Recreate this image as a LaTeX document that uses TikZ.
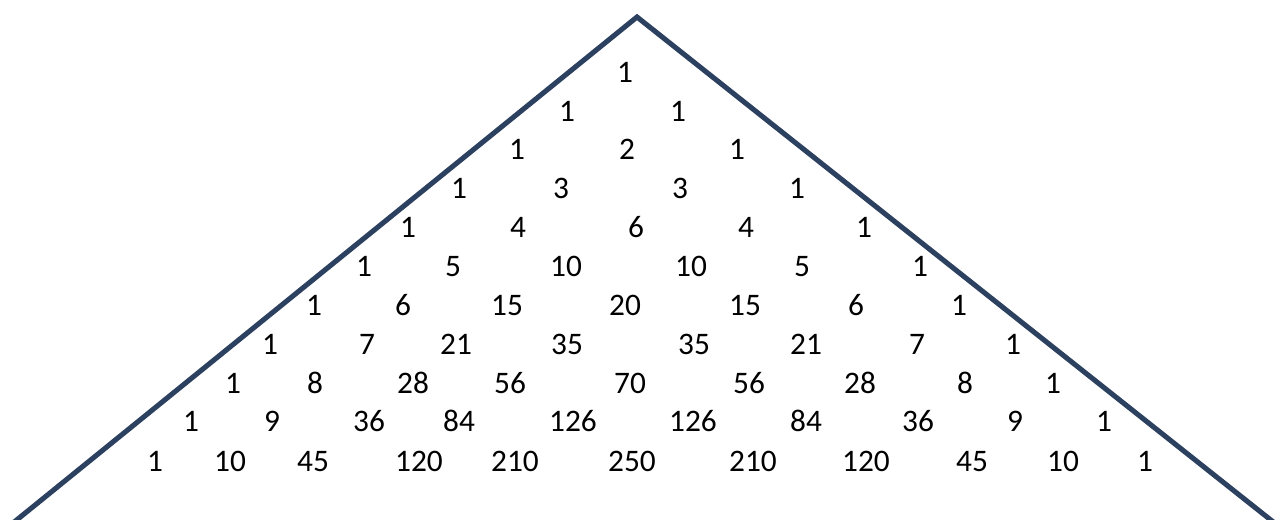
\documentclass[tikz,border=0pt]{standalone}
\usepackage{fontspec}
\setmainfont{Carlito}
\definecolor{roofblue}{RGB}{44,64,96}
\tikzset{
  num/.style={anchor=base,yshift=-6.9pt,inner sep=0.75pt,font=\fontsize{23.5}{28}\selectfont},
  roof/.style={draw=roofblue,line width=3.8pt,line join=miter}
}
\begin{document}
\begin{tikzpicture}[x=0.75pt,y=0.75pt,yscale=-1,xscale=1]
\useasboundingbox (0,0) rectangle (1278,519);
\clip (0,0) rectangle (1278,519);
% roof lines
\coordinate (apex) at (637,17);
\coordinate (leftfoot) at (-8,540);
\coordinate (rightfoot) at (1296,540);
\draw [roof] (leftfoot) -- (apex) -- (rightfoot);
% row 0
\draw (625,73) node [num] (r0c0) {1};
% row 1
\draw (567,112) node [num] (r1c0) {1};
\draw (678,112) node [num] (r1c1) {1};
% row 2
\draw (517,150) node [num] (r2c0) {1};
\draw (627,150) node [num] (r2c1) {2};
\draw (737,150) node [num] (r2c2) {1};
% row 3
\draw (459,189) node [num] (r3c0) {1};
\draw (561,189) node [num] (r3c1) {3};
\draw (680,189) node [num] (r3c2) {3};
\draw (797,189) node [num] (r3c3) {1};
% row 4
\draw (408,228) node [num] (r4c0) {1};
\draw (518,228) node [num] (r4c1) {4};
\draw (636,228) node [num] (r4c2) {6};
\draw (746,228) node [num] (r4c3) {4};
\draw (864,228) node [num] (r4c4) {1};
% row 5
\draw (364,267) node [num] (r5c0) {1};
\draw (453,267) node [num] (r5c1) {5};
\draw (566,267) node [num] (r5c2) {10};
\draw (691,267) node [num] (r5c3) {10};
\draw (802,267) node [num] (r5c4) {5};
\draw (920,267) node [num] (r5c5) {1};
% row 6
\draw (314,306) node [num] (r6c0) {1};
\draw (403,306) node [num] (r6c1) {6};
\draw (507,306) node [num] (r6c2) {15};
\draw (625,306) node [num] (r6c3) {20};
\draw (745,306) node [num] (r6c4) {15};
\draw (856,306) node [num] (r6c5) {6};
\draw (959,306) node [num] (r6c6) {1};
% row 7
\draw (270,345) node [num] (r7c0) {1};
\draw (367,345) node [num] (r7c1) {7};
\draw (456,345) node [num] (r7c2) {21};
\draw (567,345) node [num] (r7c3) {35};
\draw (694,345) node [num] (r7c4) {35};
\draw (806,345) node [num] (r7c5) {21};
\draw (917,345) node [num] (r7c6) {7};
\draw (1013,345) node [num] (r7c7) {1};
% row 8
\draw (233,384) node [num] (r8c0) {1};
\draw (315,384) node [num] (r8c1) {8};
\draw (413,384) node [num] (r8c2) {28};
\draw (510,384) node [num] (r8c3) {56};
\draw (630,384) node [num] (r8c4) {70};
\draw (749,384) node [num] (r8c5) {56};
\draw (860,384) node [num] (r8c6) {28};
\draw (965,384) node [num] (r8c7) {8};
\draw (1053,384) node [num] (r8c8) {1};
% row 9
\draw (191,422) node [num] (r9c0) {1};
\draw (272,422) node [num] (r9c1) {9};
\draw (369,422) node [num] (r9c2) {36};
\draw (459,422) node [num] (r9c3) {84};
\draw (573,422) node [num] (r9c4) {126};
\draw (693,422) node [num] (r9c5) {126};
\draw (806,422) node [num] (r9c6) {84};
\draw (918,422) node [num] (r9c7) {36};
\draw (1015,422) node [num] (r9c8) {9};
\draw (1104,422) node [num] (r9c9) {1};
% row 10
\draw (155,462) node [num] (r10c0) {1};
\draw (230,462) node [num] (r10c1) {10};
\draw (313,462) node [num] (r10c2) {45};
\draw (419,462) node [num] (r10c3) {120};
\draw (515,462) node [num] (r10c4) {210};
\draw (632,462) node [num] (r10c5) {250};
\draw (753,462) node [num] (r10c6) {210};
\draw (866,462) node [num] (r10c7) {120};
\draw (972,462) node [num] (r10c8) {45};
\draw (1063,462) node [num] (r10c9) {10};
\draw (1145,462) node [num] (r10c10) {1};
\end{tikzpicture}
\end{document}
